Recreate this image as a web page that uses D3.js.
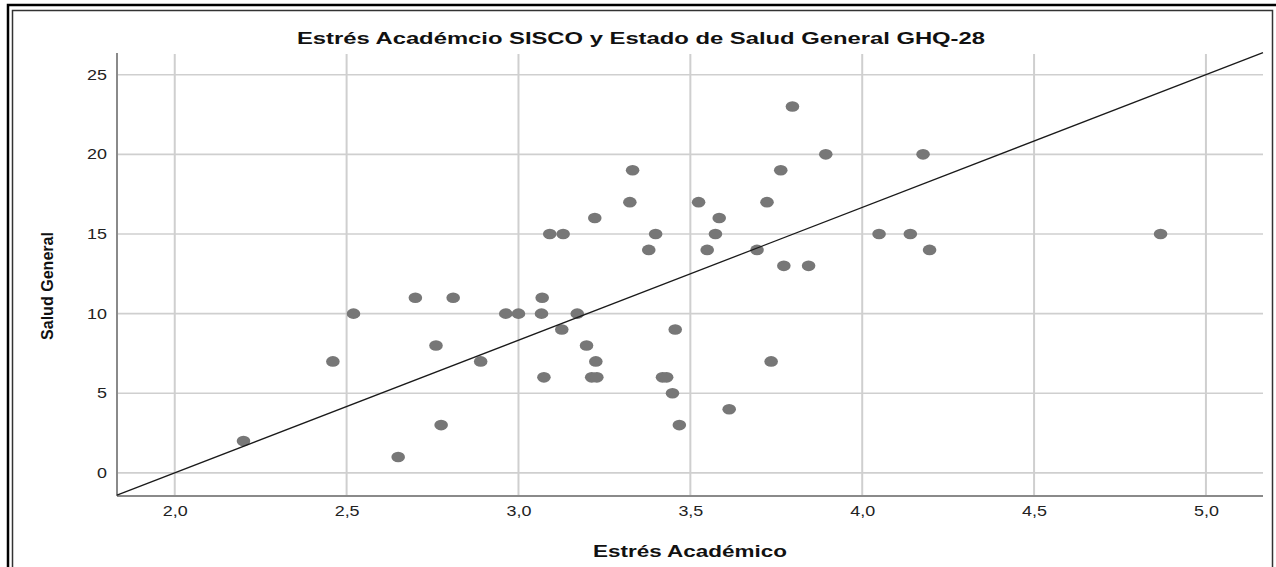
<!DOCTYPE html>
<html>
<head>
<meta charset="utf-8">
<script src="https://cdn.jsdelivr.net/npm/d3@7"></script>
<style>
html,body{margin:0;padding:0;background:#fff;}
svg{display:block;}
</style>
</head>
<body>
<svg id="chart" width="1276" height="567"></svg>
<script>
// ---- data ----
const estres = [2.20,2.46,2.52,2.65,2.70,2.76,2.775,2.81,2.89,2.963,3.00,3.067,3.069,3.074,3.126,3.171,3.198,3.225,3.213,3.228,3.419,3.431,3.448,3.456,3.468,3.613,3.735,3.797,3.894,3.332,3.763,3.324,3.524,3.723,3.222,3.584,3.091,3.13,3.399,3.573,3.379,3.549,3.694,3.772,3.844,4.177,4.049,4.140,4.196,4.868];
const salud  = [2,7,10,1,11,8,3,11,7,10,10,10,11,6,9,10,8,7,6,6,6,6,5,9,3,4,7,23,20,19,19,17,17,17,16,16,15,15,15,15,14,14,14,13,13,20,15,15,14,15];
const xTicks = [2.0,2.5,3.0,3.5,4.0,4.5,5.0];
const yTicks = [0,5,10,15,20,25];
const fitIntercept = [-16.667];
const fitSlope = [8.3333];
const titleText = "Estrés Académcio SISCO y Estado de Salud General GHQ-28";
const xLabel = "Estrés Académico";
const yLabel = "Salud General";

// ---- layout ----
const svg = d3.select("#chart");
const L = 117, R = 1263, T = 54, B = 496;
const x = d3.scaleLinear().domain([1.832, 5.166]).range([L, R]);
const y = d3.scaleLinear().domain([-1.45, 26.3]).range([B, T]);
const fmt = d => d3.format(".1f")(d).replace(".", ",");

// frame
svg.append("rect").attr("x",8).attr("y",5).attr("width",1290).attr("height",600)
  .attr("fill","none").attr("stroke","#000").attr("stroke-width",2.5);
svg.append("rect").attr("x",12.5).attr("y",10.5).attr("width",1260).attr("height",600)
  .attr("fill","none").attr("stroke","#333").attr("stroke-width",1.5);

// grid
const g = svg.append("g");
g.selectAll(".vg").data(xTicks).join("line")
  .attr("x1",d=>x(d)).attr("x2",d=>x(d)).attr("y1",T).attr("y2",B)
  .attr("stroke","#cfcfcf").attr("stroke-width",2);
g.selectAll(".hg").data(yTicks).join("line")
  .attr("x1",L).attr("x2",R).attr("y1",d=>y(d)).attr("y2",d=>y(d))
  .attr("stroke","#cfcfcf").attr("stroke-width",1.6);

// axes via d3 axis (no tick lines)
const xAxis = svg.append("g").attr("transform",`translate(0,${B})`)
  .call(d3.axisBottom(x).tickValues(xTicks).tickFormat(fmt).tickSize(0).tickPadding(10));
const yAxis = svg.append("g").attr("transform",`translate(${L},0)`)
  .call(d3.axisLeft(y).tickValues(yTicks).tickSize(0).tickPadding(10));
[xAxis,yAxis].forEach(a=>{
  a.select(".domain").remove();
  a.selectAll("text").attr("font-family","Arial, 'Liberation Sans', sans-serif")
    .attr("font-size",14).attr("fill","#222")
    .each(function(){
      const w = this.getComputedTextLength();
      d3.select(this).attr("textLength", w*1.28).attr("lengthAdjust","spacingAndGlyphs");
    });
});
svg.append("line").attr("x1",L).attr("x2",L).attr("y1",T-1).attr("y2",B)
  .attr("stroke","#8a8a8a").attr("stroke-width",2);
svg.append("line").attr("x1",L).attr("x2",R).attr("y1",B).attr("y2",B)
  .attr("stroke","#8a8a8a").attr("stroke-width",2);

// points
svg.append("g").selectAll("ellipse").data(estres.map((e,i)=>[e,salud[i]])).join("ellipse")
  .attr("cx",d=>x(d[0])).attr("cy",d=>y(d[1])).attr("rx",6.8).attr("ry",5.3)
  .attr("fill","#777777");

// fit line
const [x0,x1] = x.domain();
const f = v => fitIntercept[0] + fitSlope[0]*v;
svg.append("line").attr("x1",x(x0)).attr("y1",y(f(x0))).attr("x2",x(x1)).attr("y2",y(f(x1)))
  .attr("stroke","#1a1a1a").attr("stroke-width",1.3);

// titles
svg.append("text").attr("x",641).attr("y",44).attr("text-anchor","middle")
  .attr("font-family","Arial, 'Liberation Sans', sans-serif").attr("font-weight","bold")
  .attr("font-size",16).attr("textLength",688).attr("lengthAdjust","spacingAndGlyphs")
  .attr("fill","#111").text(titleText);
svg.append("text").attr("x",690).attr("y",557).attr("text-anchor","middle")
  .attr("font-family","Arial, 'Liberation Sans', sans-serif").attr("font-weight","bold")
  .attr("font-size",17).attr("textLength",194).attr("lengthAdjust","spacingAndGlyphs")
  .attr("fill","#111").text(xLabel);
svg.append("text").attr("transform","translate(53,286) rotate(-90)").attr("text-anchor","middle")
  .attr("font-family","Arial, 'Liberation Sans', sans-serif").attr("font-weight","bold")
  .attr("font-size",16).attr("textLength",108).attr("lengthAdjust","spacingAndGlyphs")
  .attr("fill","#111").text(yLabel);
</script>
</body>
</html>
